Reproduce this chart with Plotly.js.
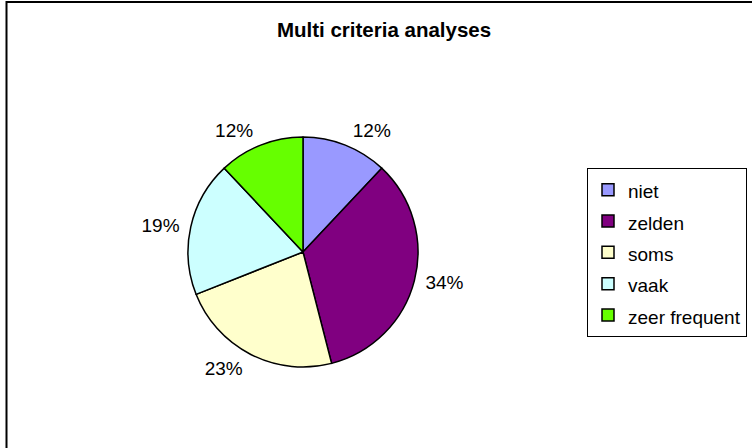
<!DOCTYPE html>
<html>
<head>
<meta charset="utf-8">
<script src="https://cdn.plot.ly/plotly-3.0.1.min.js"></script>
<style>html,body{margin:0;padding:0;background:#fff;}#chart{width:752px;height:448px;}</style>
</head>
<body>
<div id="chart"></div>
<script>
var categories = ["niet", "zelden", "soms", "vaak", "zeer frequent"];
var values = [12, 34, 23, 19, 12];
var colors = ["#9999FF", "#800080", "#FFFFCC", "#CCFFFF", "#66FF00"];
var chartTitle = "Multi criteria analyses";

var W = 752, H = 448;
var FONT = "Liberation Sans, Arial, Helvetica, sans-serif";
var CX = 303, CY = 252, R = 115, RLAB = 121;
function dom(r) {
  return { x: [(CX - r) / W, (CX + r) / W], y: [(H - CY - r) / H, (H - CY + r) / H] };
}
var legendLabels = categories.map(function (c) {
  return '<span style="font-size:19px">' + c + '</span>';
});

// invisible, slightly larger pie that carries the percentage labels
var labelPie = {
  type: "pie",
  labels: legendLabels,
  values: values,
  sort: false,
  direction: "clockwise",
  rotation: 0,
  marker: { colors: categories.map(function () { return "rgba(0,0,0,0)"; }), line: { width: 0 } },
  textinfo: "percent",
  textposition: "outside",
  texttemplate: "%{percent:.0%}",
  outsidetextfont: { family: FONT, size: 19, color: "#000" },
  domain: dom(RLAB),
  showlegend: false,
  hoverinfo: "skip"
};

var pie = {
  type: "pie",
  labels: legendLabels,
  values: values,
  sort: false,
  direction: "clockwise",
  rotation: 0,
  marker: { colors: colors, line: { color: "#000", width: 1.5 } },
  textinfo: "none",
  hoverinfo: "label+percent",
  domain: dom(R),
  showlegend: true
};

var layout = {
  width: W, height: H,
  margin: { l: 0, r: 0, t: 0, b: 0 },
  paper_bgcolor: "#fff",
  font: { family: FONT, color: "#000" },
  title: {
    text: chartTitle,
    font: { family: FONT, size: 20.5, weight: "bold", color: "#000" },
    x: 384 / W, xanchor: "center",
    y: 1 - 30 / H, yanchor: "middle", yref: "container"
  },
  legend: {
    x: 747 / W, xanchor: "right",
    y: (H - 168) / H, yanchor: "top",
    bordercolor: "#000", borderwidth: 1,
    bgcolor: "#fff",
    font: { family: FONT, size: 21.8, color: "#000" }
  },
  shapes: [{
    type: "rect", xref: "paper", yref: "paper",
    x0: 6.5 / W, x1: 1.02, y0: -0.02, y1: 1 - 2 / H,
    line: { color: "#000", width: 2 }
  }]
};

Plotly.newPlot("chart", [labelPie, pie], layout, { staticPlot: true });
</script>
</body>
</html>
